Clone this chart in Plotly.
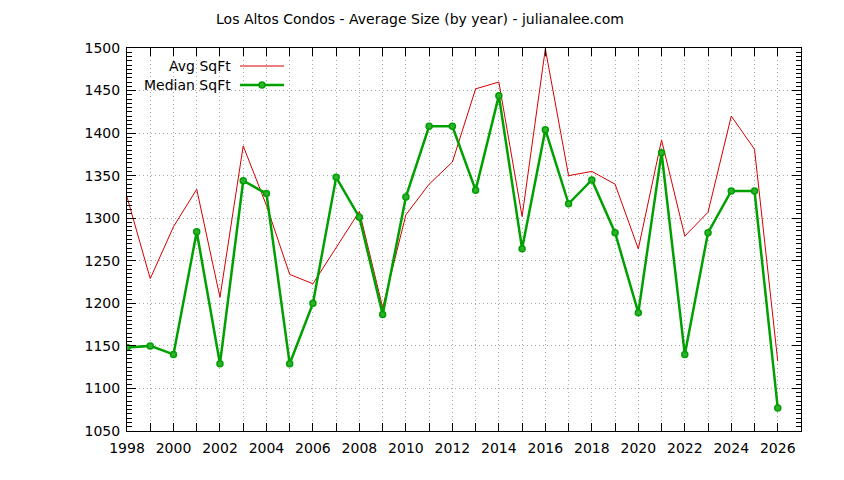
#!/usr/bin/env python
# -*- coding: utf-8 -*-
import plotly.graph_objects as go

# Data
years = list(range(1998, 2027))
avg_sqft = [1325, 1229, 1290, 1334, 1207, 1385, 1315, 1234, 1223, 1265,
            1308, 1195, 1304, 1340, 1366, 1452, 1460, 1302, 1499, 1350,
            1355, 1340, 1264, 1392, 1279, 1307, 1420, 1381, 1132]
median_sqft = [1148, 1150, 1140, 1284, 1129, 1344, 1329, 1129, 1200, 1348,
               1301, 1187, 1325, 1408, 1408, 1333, 1444, 1264, 1404, 1317,
               1345, 1283, 1189, 1377, 1140, 1283, 1332, 1332, 1077]
legend_names = ['Avg SqFt', 'Median SqFt']

red = '#d40000'
green = '#00a000'
font_family = 'DejaVu Sans'

fig = go.Figure()
fig.add_trace(go.Scatter(x=years, y=avg_sqft, mode='lines', name=legend_names[0],
                         line=dict(color=red, width=1)))
fig.add_trace(go.Scatter(x=years, y=median_sqft, mode='lines+markers', name=legend_names[1],
                         line=dict(color=green, width=2.5),
                         marker=dict(symbol='circle', size=6, color='#30b030',
                                     line=dict(color=green, width=1.5))))

# page has an 8px body margin, so work in screen pixels and shift
W, H = 844, 480
off = 8
ml, mr, mt, mb = 127 - off, 51, 48 - off, 57
pw, ph = W - ml - mr, H - mt - mb

def px(x):
    return (x - off - ml) / pw

def py(y):
    return 1 - (y - off - mt) / ph

# gnuplot style legend: text on the left, sample on the right
annotations = []
shapes = []
for i, name in enumerate(legend_names):
    yy = 66 + i * 19
    annotations.append(dict(x=px(233), y=py(yy), xref='paper', yref='paper',
                            text=name, showarrow=False, xanchor='right', yanchor='middle',
                            font=dict(size=14, color='black', family=font_family)))
    col = red if i == 0 else green
    wid = 1 if i == 0 else 2.5
    shapes.append(dict(type='line', xref='paper', yref='paper',
                       x0=px(240), x1=px(284), y0=py(yy), y1=py(yy),
                       line=dict(color=col, width=wid)))
    if i == 1:
        shapes.append(dict(type='circle', xref='paper', yref='paper',
                           x0=px(259), x1=px(265), y0=py(yy - 3), y1=py(yy + 3),
                           fillcolor='#30b030', line=dict(color=green, width=1.5)))

grid_col = '#a8a8a8'
grid_dash = '1px,3px'

fig.update_layout(
    width=W,
    height=H,
    showlegend=False,
    plot_bgcolor='white',
    paper_bgcolor='white',
    margin=dict(l=ml, r=mr, t=mt, b=mb),
    font=dict(family=font_family, size=14, color='black'),
    title=dict(text='Los Altos Condos - Average Size (by year) - julianalee.com',
               x=(420 - off) / W, xanchor='center', y=1 - (19 - off) / H, yanchor='middle',
               font=dict(size=14, color='black', family=font_family)),
    annotations=annotations,
    shapes=shapes,
)
fig.update_xaxes(
    range=[1998, 2027], tick0=1998, dtick=2,
    ticks='inside', ticklen=8, tickcolor='black', mirror='ticks',
    showline=True, linecolor='black', linewidth=1, ticklabelstandoff=4,
    showgrid=True, gridcolor=grid_col, griddash=grid_dash, gridwidth=1,
    minor=dict(dtick=1, ticks='inside', ticklen=8, tickcolor='black',
               showgrid=True, gridcolor=grid_col, griddash=grid_dash),
    zeroline=False,
)
fig.update_yaxes(
    range=[1050, 1500], tick0=1050, dtick=50,
    ticks='inside', ticklen=9, tickcolor='black', mirror='ticks',
    showline=True, linecolor='black', linewidth=1, ticklabelstandoff=3,
    showgrid=True, gridcolor=grid_col, griddash=grid_dash, gridwidth=1,
    minor=dict(dtick=5, ticks='inside', ticklen=5, tickcolor='black', showgrid=False),
    zeroline=False,
)

fig.write_html("out.html")
